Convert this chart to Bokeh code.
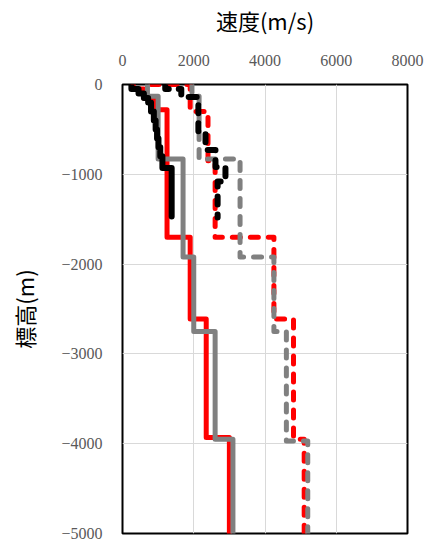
from bokeh.plotting import figure
from bokeh.models import Range1d, FixedTicker, CustomJSTickFormatter
from bokeh.embed import file_html
from bokeh.resources import INLINE

# ---- data: layer boundaries (m, elevation) and velocities (m/s) ----
red_solid_depth = [0, -50, -150, -280, -1700, -2610, -3930, -5000]
red_solid_vel = [300, 600, 900, 1250, 1900, 2350, 3000]

red_dash_depth = [0, 0, -300, -850, -1700, -2610, -3950, -5000]
red_dash_vel = [800, 1900, 2400, 2600, 4250, 4800, 5100]

gray_solid_depth = [0, -130, -830, -1920, -2750, -3950, -5000]
gray_solid_vel = [700, 1000, 1700, 2000, 2600, 3100]

gray_dash_depth = [0, -130, -830, -1920, -2750, -3970, -5000]
gray_dash_vel = [1950, 2150, 3300, 4250, 4600, 5200]

black_solid_depth = [0, -50, -100, -150, -200, -300, -400, -500, -600, -700, -800, -930, -1470]
black_solid_vel = [250, 450, 600, 720, 800, 880, 930, 970, 1010, 1060, 1120, 1380]

black_dash_depth = [0, -50, -140, -540, -730, -920, -1080, -1480]
black_dash_vel = [1200, 1650, 2130, 2330, 2610, 2890, 2670]

x_ticks = [0, 2000, 4000, 6000, 8000]
y_ticks = [0, -1000, -2000, -3000, -4000, -5000]


def steps(depths, vels):
    xs, ys = [], []
    for i, v in enumerate(vels):
        xs += [v, v]
        ys += [depths[i], depths[i + 1]]
    return xs, ys


p = figure(width=424, height=544, output_backend="svg", toolbar_location=None,
           x_range=Range1d(0, 8000), y_range=Range1d(-5000, 0),
           x_axis_location="above", min_border_left=122, min_border_right=17,
           min_border_top=83, min_border_bottom=11)

series = [
    (red_solid_depth, red_solid_vel, "#ff0000", "solid", 5),
    (red_dash_depth, red_dash_vel, "#ff0000", "8 10", 5),
    (gray_solid_depth, gray_solid_vel, "#808080", "solid", 5),
    (gray_dash_depth, gray_dash_vel, "#808080", "8 10", 5),
    (black_solid_depth, black_solid_vel, "#000000", "solid", 6),
    (black_dash_depth, black_dash_vel, "#000000", "8 10", 6),
]
for d, v, c, dash, w in series:
    xs, ys = steps(d, v)
    p.line(xs, ys, line_color=c, line_width=w, line_dash=dash,
           line_cap="round", line_join="round")

p.outline_line_color = "black"
p.outline_line_width = 2
p.background_fill_color = "white"
p.border_fill_color = "white"

p.xgrid.grid_line_color = "#d9d9d9"
p.ygrid.grid_line_color = "#d9d9d9"
p.xgrid.ticker = FixedTicker(ticks=x_ticks)
p.ygrid.ticker = FixedTicker(ticks=y_ticks)

xa = p.xaxis[0]
ya = p.yaxis[0]
xa.ticker = FixedTicker(ticks=x_ticks)
ya.ticker = FixedTicker(ticks=y_ticks)
ya.formatter = CustomJSTickFormatter(code="return tick < 0 ? '\u2212' + Math.abs(tick) : String(tick);")
for ax in (xa, ya):
    ax.axis_line_color = None
    ax.major_tick_line_color = None
    ax.minor_tick_line_color = None
    ax.major_label_text_font = "Liberation Serif"
    ax.major_label_text_font_size = "16px"
    ax.major_label_text_color = "#595959"
    ax.axis_label_text_font = "Noto Sans CJK JP"
    ax.axis_label_text_font_style = "normal"
    ax.axis_label_text_color = "#000000"
    ax.axis_label_text_font_size = "22px"

xa.axis_label = "速度(m/s)"
ya.axis_label = "標高(m)"
xa.major_label_standoff = 13
ya.major_label_standoff = 14
xa.axis_label_standoff = 16
ya.axis_label_standoff = 18

open("out.html", "w").write(file_html(p, INLINE))
